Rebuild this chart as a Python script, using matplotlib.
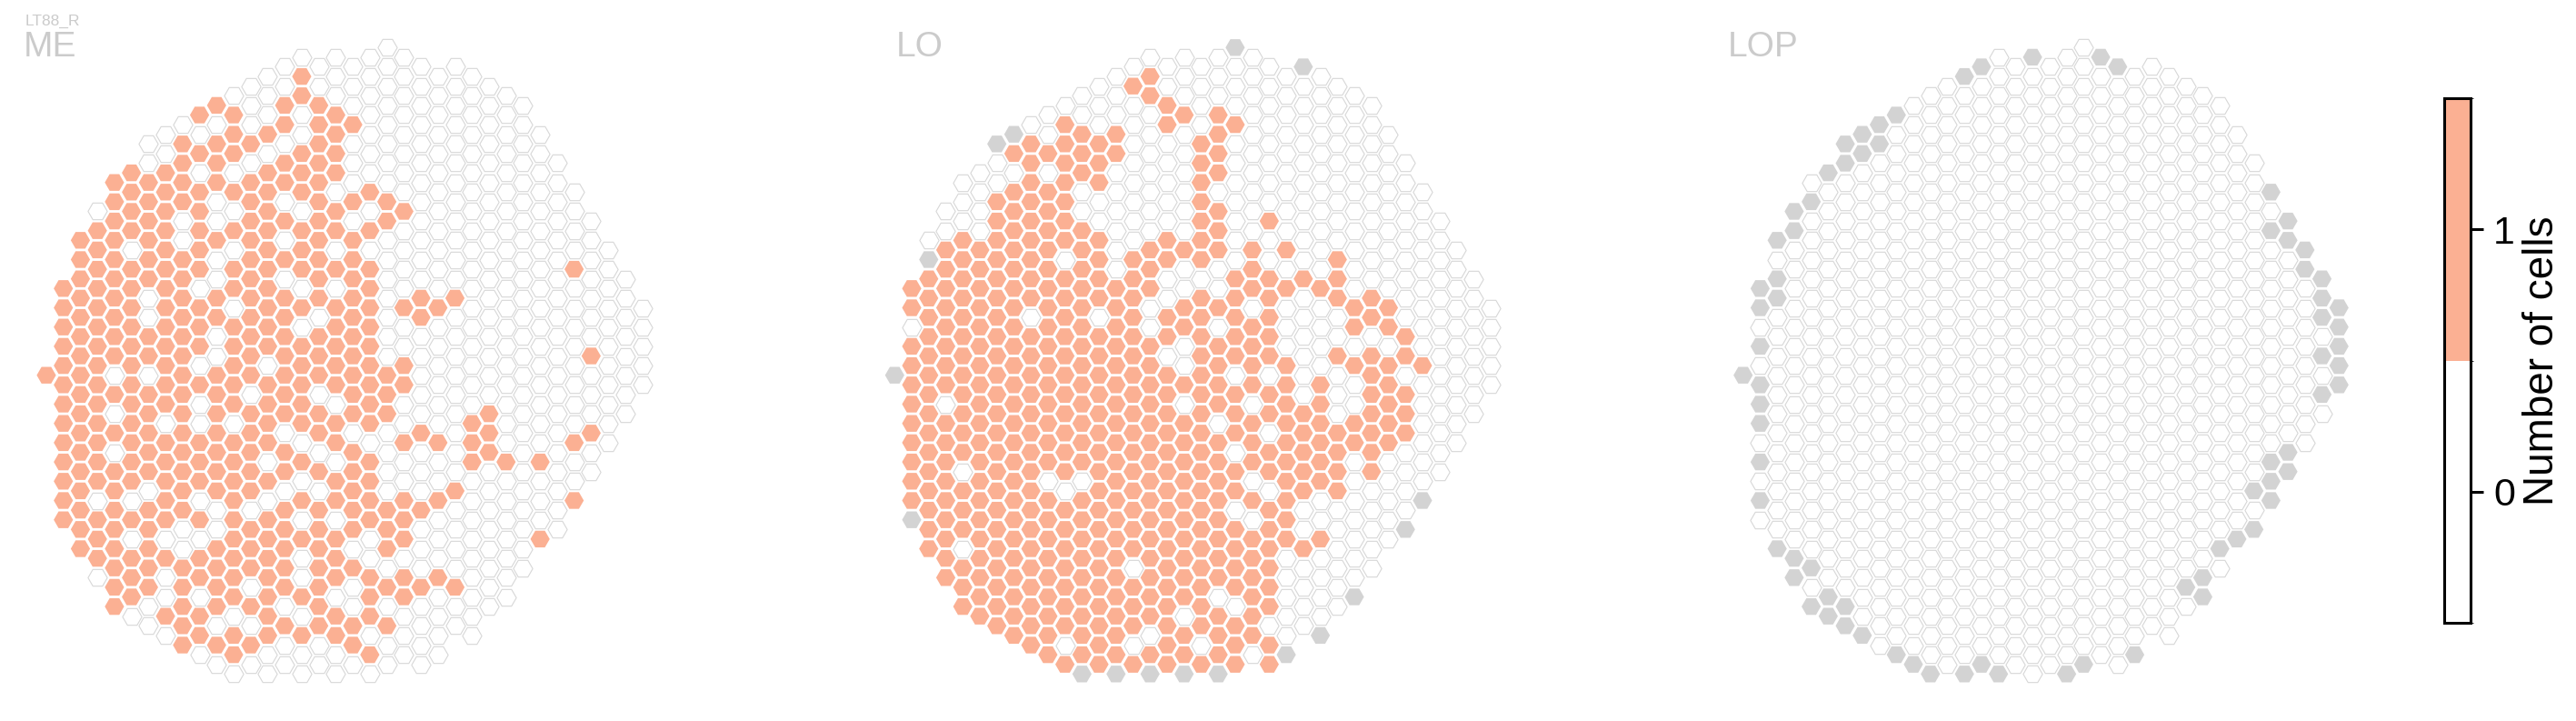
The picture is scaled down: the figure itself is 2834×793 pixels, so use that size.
import numpy as np
import matplotlib
matplotlib.use("Agg")
import matplotlib.pyplot as plt
import matplotlib as mpl
from matplotlib.colors import ListedColormap, BoundaryNorm

plt.rcParams['font.family'] = ['Liberation Sans', 'DejaVu Sans']

# ---------------- data ----------------
# hex grid: column index c (left->right), half-row index h (top->bottom)
col_top = [0, -9, -14, -17, -20, -21, -24, -25, -26, -27, -28, -29, -30, -31, -32, -33,
           -32, -33, -32, -33, -34, -33, -32, -31, -32, -31, -30, -29, -28, -25, -22,
           -19, -16, -13, -10, -7]
col_bot = [0, 15, 18, 21, 24, 25, 26, 27, 28, 29, 30, 31, 30, 31, 30, 31, 30, 31, 30,
           31, 30, 29, 30, 29, 26, 27, 24, 23, 20, 17, 16, 13, 10, 7, 4, 1]

# cell states per column, top to bottom: o = 1 cell, w = 0 cells, g = column absent
me_cols = [
    "o",
    "ooooo" "oooooooo",
    "oooooooo" "ooooooooo",
    "woooooooo" "oooooowooow",
    "oooooooooow" "owowoooooooo",
    "oooowoooooo" "oooooowowooow",
    "wwoooooowwoow" "ooooowoooooww",
    "wwooooooooooo" "oowooooowowwow",
    "woooowwooooooo" "ooooooowwooooo",
    "owowooooowooow" "owwooowowoowoow",
    "owooowwowwoowwo" "oooooowwoooowow",
    "wooowowowoowooo" "oowooooooooowoow",
    "wwwowooooooooooo" "wooooowooowowow",
    "wwwowoooooooooow" "oooowowoooooooww",
    "wwoowoowowowooooo" "oowoowooooowoww",
    "woowwooowooowowoo" "ooowowowowwowoww",
    "wwooooooooooowooo" "woowowoooooooww",
    "wwwoooowoowowoooo" "owoowoowooowooww",
    "wwwowwwowoooooooo" "oowooooowowwoow",
    "wwwwwwwowowoooooo" "ooowoooowwooowow",
    "wwwwwwwwoowwwwwwwo" "oowwwwooowowoww",
    "wwwwwwwwowwwwowwo" "owwowwooowoowww",
    "wwwwwwwwwwwwoowww" "wwowwwowwwowwww",
    "wwwwwwwwwwwwowww" "wwwowwowwwowwww",
    "wwwwwwwwwwwwowwww" "wwwwwowwwwoww",
    "wwwwwwwwwwwwwwww" "wwooowwwwwwwww",
    "wwwwwwwwwwwwwwww" "wooowwwwwwww",
    "wwwwwwwwwwwwwww" "wwwwowwwwwww",
    "wwwwwwwwwwwwwww" "wwwwwwwwww",
    "wwwwwwwwwwwww" "wwwwowwwo",
    "wwwwwwwwwwww" "wwwwwwww",
    "wwwwowwwww" "wwwowwo",
    "wwwwwwwow" "wwoww",
    "wwwwwww" "wwww",
    "wwwwww" "ww",
    "wwww" "w",
]

lo_cols = [
    "g",
    "oowoo" "ooooooog",
    "wgoooooo" "ooooooooo",
    "wwooooooo" "owooooooooo",
    "wwwoooooooo" "oooowooowooo",
    "wwwwooooooo" "ooooooooooooo",
    "gwwoooooooooo" "ooooooooooooo",
    "gowoooooooooo" "oooooooooooooo",
    "wooooooooowooo" "oooooooooooooo",
    "wwowoooooooooo" "ooooowooooooooo",
    "wooooooowoooooo" "ooooowooooooowo",
    "wwooowwoooooooo" "ooooowooooooooog",
    "wwwooowwoooowooo" "ooooooooooooooo",
    "wwwoowwwwwwooooo" "ooooooooooooooog",
    "wowwwwwwwwooooooo" "ooooooooowooowo",
    "woowwwwwwwooowwoo" "ooooooooooooowog",
    "wwoowwwwwoowwoowo" "ooooooooooooooo",
    "wwwowwwwwwowwooww" "owoooooooooowoog",
    "wwwwooooooowooooo" "ooooooooooooowo",
    "wwwoooowooowwowoo" "oowoooooooowooog",
    "gwwwowwwwwwwooooow" "ooowoowoooowooo",
    "wwwwwwwwwwooowooo" "owooowowoooooow",
    "wwwwwwwwowwooooow" "oowoowoooooowoo",
    "wwwwwwwwwowowwwo" "ooooooooowwwwwg",
    "gwwwwwwwwwwowwwww" "wooooowwowwww",
    "wwwwwwwwwwwowwww" "oooooowwowwwwg",
    "wwwwwwwwwooowwow" "wwoooowwwwww",
    "wwwwwwwwwwwoowo" "wwoowwwwwwwg",
    "wwwwwwwwwwoowoo" "ooooowwwww",
    "wwwwwwwwwoowo" "oooowwwww",
    "wwwwwwwwwoow" "ooowwwwg",
    "wwwwwwwwwo" "wwwwwwg",
    "wwwwwwwww" "wwwww",
    "wwwwwww" "wwww",
    "wwwwww" "ww",
    "wwww" "w",
]

lop_cols = [
    "g",
    "ggwgw" "gggwgwgw",
    "gwggwwww" "wwwwwwwwg",
    "ggwwwwwww" "wwwwwwwwwgg",
    "wgwwwwwwwww" "wwwwwwwwwgwg",
    "gwwwwwwwwww" "wwwwwwwwwwwgg",
    "ggwwwwwwwwwww" "wwwwwwwwwwwgg",
    "ggwwwwwwwwwww" "wwwwwwwwwwwwwg",
    "ggwwwwwwwwwwww" "wwwwwwwwwwwwww",
    "gwwwwwwwwwwwww" "wwwwwwwwwwwwwwg",
    "wwwwwwwwwwwwwww" "wwwwwwwwwwwwwwg",
    "wwwwwwwwwwwwwww" "wwwwwwwwwwwwwwwg",
    "wwwwwwwwwwwwwwww" "wwwwwwwwwwwwwww",
    "gwwwwwwwwwwwwwww" "wwwwwwwwwwwwwwwg",
    "gwwwwwwwwwwwwwwww" "wwwwwwwwwwwwwwg",
    "wwwwwwwwwwwwwwwww" "wwwwwwwwwwwwwwwg",
    "wwwwwwwwwwwwwwwww" "wwwwwwwwwwwwwww",
    "gwwwwwwwwwwwwwwww" "wwwwwwwwwwwwwwww",
    "wwwwwwwwwwwwwwwww" "wwwwwwwwwwwwwww",
    "wwwwwwwwwwwwwwwww" "wwwwwwwwwwwwwwwg",
    "wwwwwwwwwwwwwwwwww" "wwwwwwwwwwwwwwg",
    "gwwwwwwwwwwwwwwww" "wwwwwwwwwwwwwww",
    "gwwwwwwwwwwwwwwww" "wwwwwwwwwwwwwww",
    "wwwwwwwwwwwwwwww" "wwwwwwwwwwwwwwg",
    "wwwwwwwwwwwwwwwww" "wwwwwwwwwwwww",
    "wwwwwwwwwwwwwwww" "wwwwwwwwwwwwww",
    "wwwwwwwwwwwwwwww" "wwwwwwwwwwgw",
    "wwwwwwwwwwwwwww" "wwwwwwwwwwgg",
    "wwwwwwwwwwwwwww" "wwwwwwwwgw",
    "wwwwwwwwwwwww" "wwwwwwwwg",
    "wwwwwwwwwwww" "wwwwwgwg",
    "gwgwwwwwww" "wwwwggg",
    "ggwwwwwww" "wwwgg",
    "ggwwwww" "wwww",
    "gggwgw" "gw",
    "gggg" "g",
]

panel_names = ["ME", "LO", "LOP"]
panel_data = [me_cols, lo_cols, lop_cols]
cbar_ticks = [0, 1]
cbar_label = "Number of cells"
neuron_name = "LT88_R"

# ---------------- style / layout ----------------
ORANGE = "#FBB093"
GRAY = "#D3D3D3"
EDGE = "#D7D7D7"
TXT = "#CBCBCB"

W, H = 2834, 793
DPI = 100
fig = plt.figure(figsize=(W / DPI, H / DPI), dpi=DPI)

DX, DY = 18.73, 10.6          # pixels per column / per half-row
Y0 = 412.7                    # pixel row of h = 0
panel_x0 = [51.0, 984.3, 1917.7]
XL = (-1.6, 36.6)
HL = (-37.0, 34.0)
R_PX = 10.6
msize = (2 * R_PX * 72.0 / DPI) ** 2


def cells(cols):
    cs, hs, st = [], [], []
    for c, s in enumerate(cols):
        n = (col_bot[c] - col_top[c]) // 2 + 1
        s = (s + "w" * n)[:n]
        for i, ch in enumerate(s):
            cs.append(c)
            hs.append(col_top[c] + 2 * i)
            st.append(ch)
    return np.array(cs), np.array(hs), np.array(st)


for name, cols, x0 in zip(panel_names, panel_data, panel_x0):
    left = x0 + XL[0] * DX
    width = (XL[1] - XL[0]) * DX
    top = Y0 + HL[0] * DY
    height = (HL[1] - HL[0]) * DY
    ax = fig.add_axes([left / W, 1 - (top + height) / H, width / W, height / H])
    ax.set_xlim(*XL)
    ax.set_ylim(HL[1], HL[0])
    ax.axis("off")
    c, h, s = cells(cols)
    m = s == "w"
    ax.scatter(c[m], h[m], s=msize, marker="H", facecolor="white",
               edgecolor=EDGE, linewidths=0.8)
    m = s == "g"
    ax.scatter(c[m], h[m], s=msize, marker="H", facecolor=GRAY,
               edgecolor="none", linewidths=0)
    m = s == "o"
    ax.scatter(c[m], h[m], s=msize, marker="H", facecolor=ORANGE,
               edgecolor="none", linewidths=0)

# titles
fig.text(26 / W, 1 - 62 / H, "ME", fontsize=28, color=TXT, ha="left", va="baseline")
fig.text(28 / W, 1 - 28 / H, neuron_name, fontsize=12.5, color=TXT, ha="left", va="baseline")
fig.text(986 / W, 1 - 62 / H, "LO", fontsize=28, color=TXT, ha="left", va="baseline")
fig.text(1901 / W, 1 - 62 / H, "LOP", fontsize=28, color=TXT, ha="left", va="baseline")

# colorbar
cax = fig.add_axes([2689 / W, 1 - 685 / H, 29 / W, 577 / H])
cmap = ListedColormap(["white", ORANGE])
norm = BoundaryNorm([-0.5, 0.5, 1.5], 2)
cb = mpl.colorbar.ColorbarBase(cax, cmap=cmap, norm=norm, ticks=cbar_ticks)
cb.outline.set_linewidth(2.2)
cax.tick_params(length=10, width=2.2, labelsize=31, pad=8)
fig.text(2797 / W, 1 - 397 / H, cbar_label, rotation=90, fontsize=33,
         ha="center", va="center")

fig.savefig("out.png", dpi=DPI)
